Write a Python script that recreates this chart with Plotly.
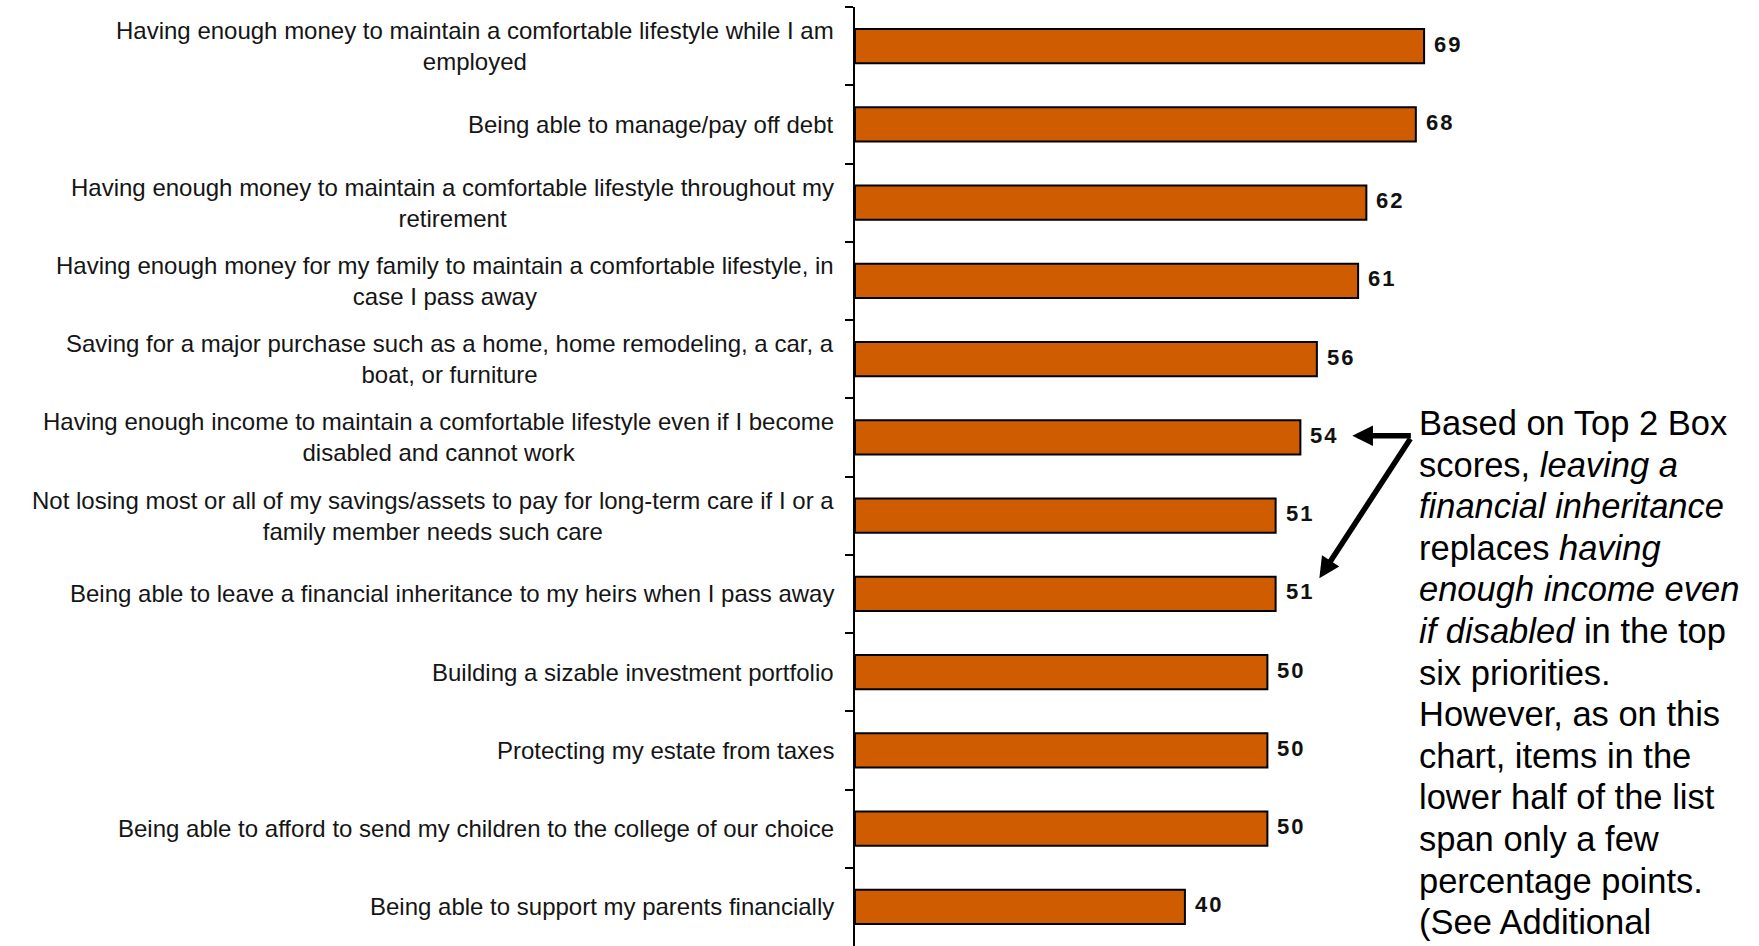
import plotly.graph_objects as go

# Financial priorities, Top 2 Box scores (%)
categories = [
    "Having enough money to maintain a comfortable lifestyle while I am<br>employed",
    "Being able to manage/pay off debt",
    "Having enough money to maintain a comfortable lifestyle throughout my<br>retirement",
    "Having enough money for my family to maintain a comfortable lifestyle, in<br>case I pass away",
    "Saving for a major purchase such as a home, home remodeling, a car, a<br>boat, or furniture",
    "Having enough income to maintain a comfortable lifestyle even if I become<br>disabled and cannot work",
    "Not losing most or all of my savings/assets to pay for long-term care if I or a<br>family member needs such care",
    "Being able to leave a financial inheritance to my heirs when I pass away",
    "Building a sizable investment portfolio",
    "Protecting my estate from taxes",
    "Being able to afford to send my children to the college of our choice",
    "Being able to support my parents financially",
]
values = [69, 68, 62, 61, 56, 54, 51, 51, 50, 50, 50, 40]

note_lines = [
    "Based on Top 2 Box",
    "scores, <i>leaving a</i>",
    "<i>financial inheritance</i>",
    "replaces <i>having</i>",
    "<i>enough income even</i>",
    "<i>if disabled</i> in the top",
    "six priorities.",
    "However, as on this",
    "chart, items in the",
    "lower half of the list",
    "span only a few",
    "percentage points.",
    "(See Additional",
]

W, H = 1759, 946
LEFT, TOP, BOTTOM = 855, 7, 0
X_MAX = 109
PX_PER_UNIT = 8.25
RIGHT = W - LEFT - X_MAX * PX_PER_UNIT
PLOT_H = H - TOP - BOTTOM

FONT = "Liberation Sans, Arial, sans-serif"
BAR_COLOR = "#CF5C00"

fig = go.Figure(
    go.Bar(
        x=values,
        y=categories,
        orientation="h",
        marker=dict(color=BAR_COLOR, line=dict(color="#000000", width=2)),
        hoverinfo="skip",
    )
)

annotations = []

# Category labels, right-aligned against the axis, lines centred
for cat in categories:
    annotations.append(dict(
        x=0, xref="paper", y=cat, yref="y",
        text=cat, showarrow=False,
        xanchor="right", yanchor="middle", align="center",
        xshift=-19,
        font=dict(family=FONT, size=24, color="#151515"),
    ))

# Value labels at the end of each bar
VALUE_LABEL_START = len(annotations)
for cat, v in zip(categories, values):
    annotations.append(dict(
        x=v, xref="x", y=cat, yref="y",
        text=f"<b>{v}</b>", showarrow=False,
        xanchor="left", yanchor="middle",
        xshift=10, yshift=2,
        font=dict(family=FONT, size=22, color="#111111"),
    ))
VALUE_LABEL_END = len(annotations)

# Side note, one line at a time
NOTE_LEFT_PX = 1419
NOTE_FIRST_PX = 423
NOTE_PITCH = 41.6
for i, line in enumerate(note_lines):
    py = NOTE_FIRST_PX + i * NOTE_PITCH
    annotations.append(dict(
        x=(NOTE_LEFT_PX - LEFT) / (X_MAX * PX_PER_UNIT), xref="paper",
        y=1 - (py - TOP) / PLOT_H, yref="paper",
        text=line, showarrow=False,
        xanchor="left", yanchor="middle", align="left",
        xshift=-2,
        font=dict(family=FONT, size=34.5, color="#000000"),
    ))

# Arrows from the note to the two swapped items
arrow_style = dict(showarrow=True, arrowhead=2, arrowsize=0.75, arrowwidth=5.5,
                   arrowcolor="#000000", text="", standoff=0, startstandoff=0)
annotations.append(dict(x=60.3, xref="x", y=4.98, yref="y",
                        ax=60, ay=0, **arrow_style))
annotations.append(dict(x=56.3, xref="x", y=6.80, yref="y",
                        ax=92, ay=-141, **arrow_style))

fig.update_layout(
    width=W, height=H,
    margin=dict(l=LEFT, r=RIGHT, t=TOP, b=BOTTOM, pad=0),
    paper_bgcolor="#ffffff", plot_bgcolor="#ffffff",
    bargap=0.56,
    showlegend=False,
    annotations=annotations,
    xaxis=dict(range=[0, X_MAX], visible=False, fixedrange=True),
    yaxis=dict(
        type="category",
        categoryorder="array", categoryarray=categories,
        range=[len(categories) - 0.5, -0.5],
        showticklabels=False,
        showline=True, linecolor="#000000", linewidth=2,
        ticks="outside", tickson="boundaries", ticklen=8, tickwidth=2, tickcolor="#000000",
        showgrid=False, zeroline=False, fixedrange=True,
    ),
)

# Widen the digit spacing of the bar value labels
post_js = """
var gd = document.getElementById('{plot_id}');
gd.querySelectorAll('g.annotation').forEach(function (g) {
  var i = +g.getAttribute('data-index');
  if (i >= %d && i < %d) {
    var t = g.querySelector('text');
    if (t) { t.style.letterSpacing = '2px'; }
  }
});
""" % (VALUE_LABEL_START, VALUE_LABEL_END)

fig.write_html("out.html", post_script=post_js)
